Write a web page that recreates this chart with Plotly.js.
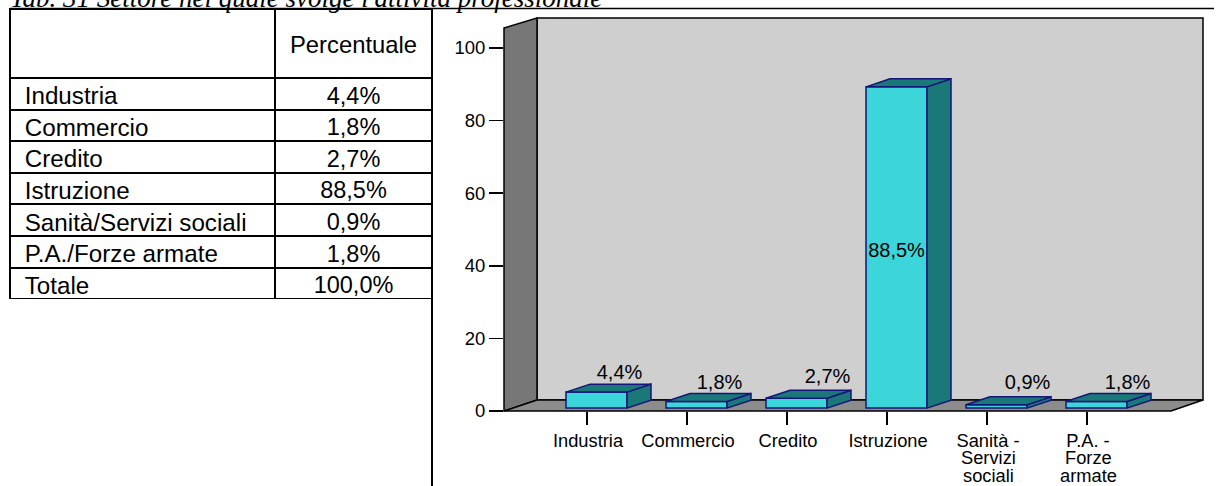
<!DOCTYPE html>
<html>
<head>
<meta charset="utf-8">
<script src="https://cdn.plot.ly/plotly-3.0.1.min.js"></script>
<style>html,body{margin:0;padding:0;background:#fff;overflow:hidden}#c{width:1216px;height:486px}</style>
</head>
<body>
<div id="c"></div>
<script>
const tableRows = ['Industria','Commercio','Credito','Istruzione','Sanità/Servizi sociali','P.A./Forze armate','Totale'];
const tableValues = ['4,4%','1,8%','2,7%','88,5%','0,9%','1,8%','100,0%'];
const tableHeader = 'Percentuale';
const tableTitle = "Tab. 31 Settore nel quale svolge l'attività professionale";
const values = [4.4,1.8,2.7,88.5,0.9,1.8];
const valueLabels = ['4,4%','1,8%','2,7%','88,5%','0,9%','1,8%'];
const tickLines = [['Industria'],['Commercio'],['Credito'],['Istruzione'],['Sanità -','Servizi','sociali'],['P.A. -','Forze','armate']];
const yTicks = [0,20,40,60,80,100];
const labelNudgeXpx = [0,0,8,0,8,8];
const labelNudgeYpx = [0,0,-2,5,-3,0];

const W=1216,H=486;
const L=504,R=1203,T=18,B=411;
const pxPerX=100,pxPerY=3.63;
const xMin=-(587-L)/pxPerX, xMax=xMin+(R-L)/pxPerX;
const yMax=(B-T)/pxPerY;
const barOff=0.095,barW=0.61,depthX=0.24,depthY=2.2,lift=0.8;
const FRONT='#3CD5D9',DARK='#1A7878',EDGE='#15157A';

const P=(x,y)=>(x/W)+' '+(1-y/H);
function frame(points,fill,color,width){
  const d=points.map((p,i)=>(i?'L':'M')+P(p[0],p[1])).join(' ')+' Z';
  return {type:'path',xref:'paper',yref:'paper',path:d,fillcolor:fill,line:{color:color,width:width},layer:'below'};
}
const shapes=[
  frame([[537,18],[1203,18],[1203,400],[537,400]],'#CFCFCF','#000',1.5),
  frame([[504,28],[537,18],[537,400],[504,411]],'#777777','#000',1.5),
  frame([[504,411],[537,400],[1203,400],[1171,411]],'#8C8C8C','#000',1.5),
];
function sheetLine(x0,y0,x1,y1,w){
  return {type:'line',xref:'paper',yref:'paper',x0:x0/W,x1:x1/W,y0:1-y0/H,y1:1-y1/H,line:{color:'#000',width:w},layer:'above'};
}
shapes.push(sheetLine(10,8.5,1214,8.5,1.5));
shapes.push(sheetLine(432,8.5,432,H,2));

const traces=[];
traces.push({type:'table',domain:{x:[10/W,432/W],y:[1-299/H,1-9/H]},columnwidth:[265,157],
  header:{values:['',''],height:69,align:['left','center'],line:{color:'#000',width:2},fill:{color:'#fff'},font:{family:'Liberation Sans',size:23.5,color:'#000'}},
  cells:{values:[tableRows.map(s=>s.replace(' ','\u00a0')),tableValues],prefix:['\u00a0',''],height:31.6,align:['left','center'],line:{color:'#000',width:2},fill:{color:'#fff'},font:{family:'Liberation Sans',size:[24.2,23.5],color:'#000'}}});
traces.push({type:'bar',x:values.map((v,i)=>i+barOff),y:values,base:lift,width:barW,
  marker:{color:FRONT,line:{color:EDGE,width:1.5}},hoverinfo:'skip',showlegend:false});
values.forEach((v,i)=>{
  const x0=i+barOff-barW/2,x1=x0+barW,y0=lift,y1=lift+v;
  traces.push({type:'scatter',mode:'lines',fill:'toself',fillcolor:DARK,line:{color:EDGE,width:1.5},hoverinfo:'skip',showlegend:false,
    x:[x1,x1+depthX,x1+depthX,x1,x1],y:[y0,y0+depthY,y1+depthY,y1,y0]});
  traces.push({type:'scatter',mode:'lines',fill:'toself',fillcolor:DARK,line:{color:EDGE,width:1.5},hoverinfo:'skip',showlegend:false,
    x:[x0,x0+depthX,x1+depthX,x1,x0],y:[y1,y1+depthY,y1+depthY,y1,y1]});
});
traces.push({type:'scatter',mode:'text',hoverinfo:'skip',showlegend:false,
  x:values.map((v,i)=>i+(v>50?barOff:barOff+depthX-0.01)+labelNudgeXpx[i]/pxPerX),
  y:values.map((v,i)=>(v>50?lift+v/2:lift+v+depthY)-labelNudgeYpx[i]/pxPerY),
  text:valueLabels,textposition:values.map(v=>v>50?'middle center':'top center'),
  textfont:{family:'Liberation Sans',size:20,color:'#000'}});

const annotations=[
  {xref:'paper',yref:'paper',x:8/W,y:1-(-2)/H,xanchor:'left',yanchor:'middle',showarrow:false,
   text:'<i>'+tableTitle+'</i>',font:{family:'Liberation Serif',size:27,color:'#000'}},
  {xref:'paper',yref:'paper',x:353.5/W,y:1-44/H,xanchor:'center',yanchor:'middle',showarrow:false,
   text:tableHeader,font:{family:'Liberation Sans',size:23.8,color:'#000'}}
];
tickLines.forEach((lines,i)=>lines.slice(1).forEach((t,j)=>{
  annotations.push({xref:'x',yref:'paper',x:i+0.012,y:1-(439+18*(j+1))/H,xanchor:'center',yanchor:'middle',showarrow:false,text:t,
    font:{family:'Liberation Sans',size:18.3,color:'#000'}});
}));

Plotly.newPlot('c',traces,{
  width:W,height:H,autosize:false,showlegend:false,
  paper_bgcolor:'#fff',plot_bgcolor:'rgba(0,0,0,0)',
  margin:{l:0,r:0,t:0,b:0,pad:0},
  shapes,annotations,
  xaxis:{domain:[L/W,R/W],range:[xMin,xMax],tickmode:'array',tickvals:tickLines.map((_,i)=>i),ticktext:tickLines.map(l=>l[0]),
    ticks:'outside',ticklen:13,tickwidth:1.5,tickcolor:'#000',showgrid:false,zeroline:false,showline:false,tickangle:0,
    ticklabelshift:1,tickfont:{family:'Liberation Sans',size:18.3,color:'#000'}},
  yaxis:{domain:[1-B/H,1-T/H],range:[0,yMax],tickmode:'array',tickvals:yTicks,ticktext:yTicks.map(String),
    ticks:'outside',ticklen:14,tickwidth:1.5,tickcolor:'#000',showgrid:false,zeroline:false,showline:false,
    tickfont:{family:'Liberation Sans',size:18.5,color:'#000'}}
},{displayModeBar:false,staticPlot:true});
</script>
</body>
</html>
